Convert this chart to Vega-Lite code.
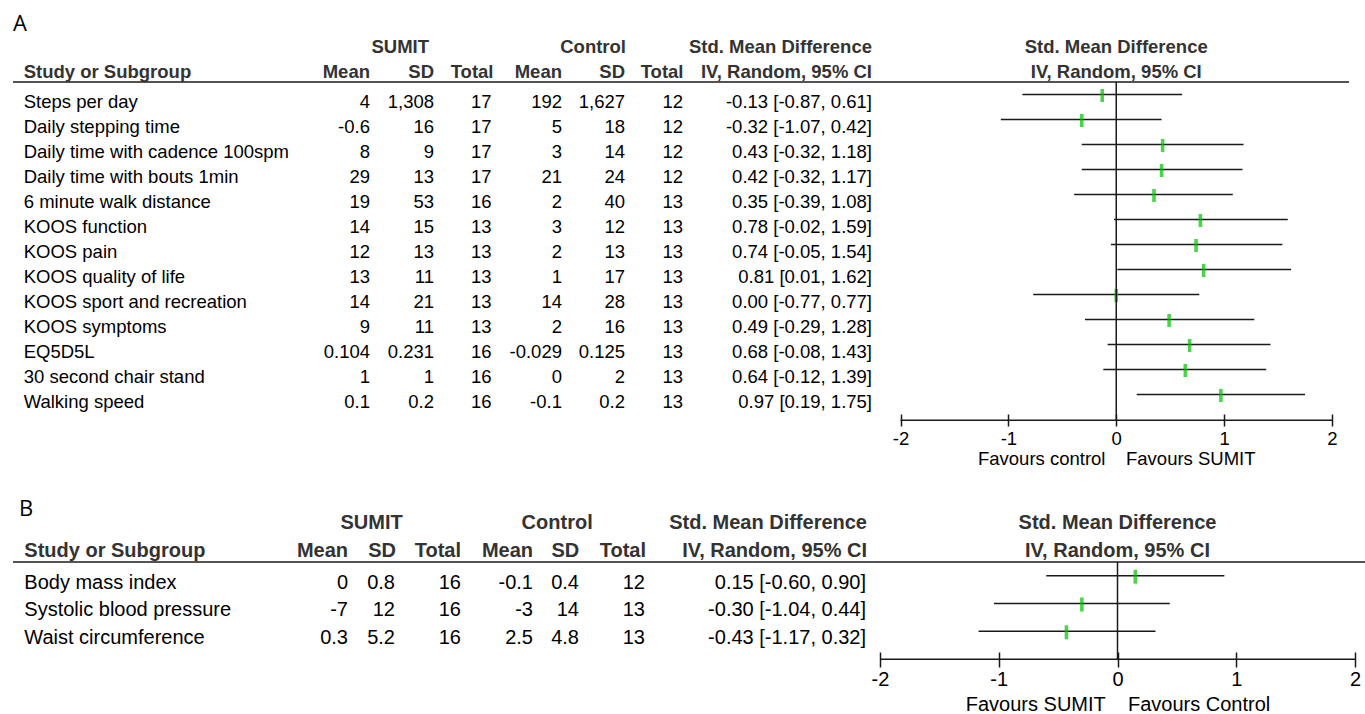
{
 "$schema": "https://vega.github.io/schema/vega-lite/v6.json",
 "padding": {"left": 12, "top": 12, "right": 0, "bottom": 0},
 "background": "white",
 "config": {"font": "Liberation Sans", "view": {"stroke": null}},
 "spacing": 30,
 "datasets": {
  "a": [
   {"row": "Steps per day", "sMean": "4", "sSD": "1,308", "sTotal": "17", "cMean": "192", "cSD": "1,627", "cTotal": "12", "ci": "-0.13 [-0.87, 0.61]", "est": -0.13, "lo": -0.87, "hi": 0.61},
   {"row": "Daily stepping time", "sMean": "-0.6", "sSD": "16", "sTotal": "17", "cMean": "5", "cSD": "18", "cTotal": "12", "ci": "-0.32 [-1.07, 0.42]", "est": -0.32, "lo": -1.07, "hi": 0.42},
   {"row": "Daily time with cadence 100spm", "sMean": "8", "sSD": "9", "sTotal": "17", "cMean": "3", "cSD": "14", "cTotal": "12", "ci": "0.43 [-0.32, 1.18]", "est": 0.43, "lo": -0.32, "hi": 1.18},
   {"row": "Daily time with bouts 1min", "sMean": "29", "sSD": "13", "sTotal": "17", "cMean": "21", "cSD": "24", "cTotal": "12", "ci": "0.42 [-0.32, 1.17]", "est": 0.42, "lo": -0.32, "hi": 1.17},
   {"row": "6 minute walk distance", "sMean": "19", "sSD": "53", "sTotal": "16", "cMean": "2", "cSD": "40", "cTotal": "13", "ci": "0.35 [-0.39, 1.08]", "est": 0.35, "lo": -0.39, "hi": 1.08},
   {"row": "KOOS function", "sMean": "14", "sSD": "15", "sTotal": "13", "cMean": "3", "cSD": "12", "cTotal": "13", "ci": "0.78 [-0.02, 1.59]", "est": 0.78, "lo": -0.02, "hi": 1.59},
   {"row": "KOOS pain", "sMean": "12", "sSD": "13", "sTotal": "13", "cMean": "2", "cSD": "13", "cTotal": "13", "ci": "0.74 [-0.05, 1.54]", "est": 0.74, "lo": -0.05, "hi": 1.54},
   {"row": "KOOS quality of life", "sMean": "13", "sSD": "11", "sTotal": "13", "cMean": "1", "cSD": "17", "cTotal": "13", "ci": "0.81 [0.01, 1.62]", "est": 0.81, "lo": 0.01, "hi": 1.62},
   {"row": "KOOS sport and recreation", "sMean": "14", "sSD": "21", "sTotal": "13", "cMean": "14", "cSD": "28", "cTotal": "13", "ci": "0.00 [-0.77, 0.77]", "est": 0.0, "lo": -0.77, "hi": 0.77},
   {"row": "KOOS symptoms", "sMean": "9", "sSD": "11", "sTotal": "13", "cMean": "2", "cSD": "16", "cTotal": "13", "ci": "0.49 [-0.29, 1.28]", "est": 0.49, "lo": -0.29, "hi": 1.28},
   {"row": "EQ5D5L", "sMean": "0.104", "sSD": "0.231", "sTotal": "16", "cMean": "-0.029", "cSD": "0.125", "cTotal": "13", "ci": "0.68 [-0.08, 1.43]", "est": 0.68, "lo": -0.08, "hi": 1.43},
   {"row": "30 second chair stand", "sMean": "1", "sSD": "1", "sTotal": "16", "cMean": "0", "cSD": "2", "cTotal": "13", "ci": "0.64 [-0.12, 1.39]", "est": 0.64, "lo": -0.12, "hi": 1.39},
   {"row": "Walking speed", "sMean": "0.1", "sSD": "0.2", "sTotal": "16", "cMean": "-0.1", "cSD": "0.2", "cTotal": "13", "ci": "0.97 [0.19, 1.75]", "est": 0.97, "lo": 0.19, "hi": 1.75}
  ],
  "b": [
   {"row": "Body mass index", "sMean": "0", "sSD": "0.8", "sTotal": "16", "cMean": "-0.1", "cSD": "0.4", "cTotal": "12", "ci": "0.15 [-0.60, 0.90]", "est": 0.15, "lo": -0.60, "hi": 0.90},
   {"row": "Systolic blood pressure", "sMean": "-7", "sSD": "12", "sTotal": "16", "cMean": "-3", "cSD": "14", "cTotal": "13", "ci": "-0.30 [-1.04, 0.44]", "est": -0.30, "lo": -1.04, "hi": 0.44},
   {"row": "Waist circumference", "sMean": "0.3", "sSD": "5.2", "sTotal": "16", "cMean": "2.5", "cSD": "4.8", "cTotal": "13", "ci": "-0.43 [-1.17, 0.32]", "est": -0.43, "lo": -1.17, "hi": 0.32}
  ],
  "head": [
   {"row": "hdr1", "ci": "Std. Mean Difference"},
   {"row": "Study or Subgroup", "sMean": "Mean", "sSD": "SD", "sTotal": "Total", "cMean": "Mean", "cSD": "SD", "cTotal": "Total", "ci": "IV, Random, 95% CI"}
  ],
  "group": [
   {"row": "hdr1", "g": "SUMIT"},
   {"row": "hdr1", "g": "Control"}
  ]
 },
 "vconcat": [
  {
   "title": {"text": "A", "anchor": "start", "frame": "group", "fontSize": 22, "fontWeight": "normal", "font": "Open Sans", "color": "#000", "baseline": "alphabetic", "offset": -17.6},
   "width": 1336,
   "height": 379,
   "encoding": {"y": {"field": "row", "type": "nominal", "axis": null, "scale": {"type": "point", "domain": ["hdr1", "Study or Subgroup", "Steps per day", "Daily stepping time", "Daily time with cadence 100spm", "Daily time with bouts 1min", "6 minute walk distance", "KOOS function", "KOOS pain", "KOOS quality of life", "KOOS sport and recreation", "KOOS symptoms", "EQ5D5L", "30 second chair stand", "Walking speed"], "range": [9.5, 359.5], "padding": 0}}},
   "resolve": {"scale": {"x": "independent"}},
   "layer": [
    {"data": {"name": "a"}, "mark": {"type": "rule", "color": "#1a1a1a", "strokeWidth": 1.5},
     "encoding": {"x": {"field": "lo", "type": "quantitative", "scale": {"domain": [-2, 2], "range": [887.5, 1319], "nice": false, "zero": false},
       "axis": {"orient": "bottom", "values": [-2, -1, 0, 1, 2], "domain": false, "grid": false, "ticks": true, "tickSize": 12, "tickWidth": 1.5, "tickColor": "#1a1a1a", "labelFontSize": 18.5, "labelColor": "#000", "labelBaseline": "alphabetic", "labelPadding": 18, "labelFlush": false, "labelOverlap": false, "labelExpr": "'' + datum.value", "title": "Favours control\u00a0\u00a0\u00a0\u00a0Favours SUMIT", "titleFontSize": 18.5, "titleFontWeight": "normal", "titleColor": "#000", "titlePadding": 2}},
      "x2": {"field": "hi"}}},
    {"data": {"name": "a"}, "mark": {"type": "tick", "color": "#00c000", "thickness": 3.6, "size": 13, "yOffset": 1},
     "encoding": {"x": {"field": "est", "type": "quantitative", "axis": null, "scale": {"domain": [-2, 2], "range": [887.5, 1319], "nice": false, "zero": false}}}},
    {"data": {"values": [{}]}, "mark": {"type": "rule", "color": "#1a1a1a", "strokeWidth": 1.5, "yOffset": 12.5, "y2Offset": 6.3},
     "encoding": {"x": {"datum": 0, "type": "quantitative", "axis": null, "scale": {"domain": [-2, 2], "range": [887.5, 1319], "nice": false, "zero": false}},
      "y": {"datum": "Study or Subgroup", "type": "nominal", "axis": null, "scale": {"type": "point", "domain": ["hdr1", "Study or Subgroup", "Steps per day", "Daily stepping time", "Daily time with cadence 100spm", "Daily time with bouts 1min", "6 minute walk distance", "KOOS function", "KOOS pain", "KOOS quality of life", "KOOS sport and recreation", "KOOS symptoms", "EQ5D5L", "30 second chair stand", "Walking speed"], "range": [9.5, 359.5], "padding": 0}},
      "y2": {"value": "height"}}},
    {"data": {"values": [{}]}, "mark": {"type": "rule", "color": "#1a1a1a", "strokeWidth": 1.5, "yOffset": 6.3},
     "encoding": {"x": {"datum": -2, "type": "quantitative", "axis": null, "scale": {"domain": [-2, 2], "range": [887.5, 1319], "nice": false, "zero": false}},
      "x2": {"datum": 2}, "y": {"value": "height"}}},
    {"data": {"name": "head"}, "mark": {"type": "text", "align": "center", "baseline": "alphabetic", "dy": 8.7, "fontSize": 18.5, "fontWeight": "bold", "color": "#333"},
     "encoding": {"x": {"datum": 0, "type": "quantitative", "axis": null, "scale": {"domain": [-2, 2], "range": [887.5, 1319], "nice": false, "zero": false}}, "text": {"field": "ci"}}},
    {"data": {"values": [{}]}, "mark": {"type": "rule", "color": "#1a1a1a", "strokeWidth": 1.6, "yOffset": 12.5},
     "encoding": {"y": {"datum": "Study or Subgroup", "type": "nominal", "axis": null, "scale": {"type": "point", "domain": ["hdr1", "Study or Subgroup", "Steps per day", "Daily stepping time", "Daily time with cadence 100spm", "Daily time with bouts 1min", "6 minute walk distance", "KOOS function", "KOOS pain", "KOOS quality of life", "KOOS sport and recreation", "KOOS symptoms", "EQ5D5L", "30 second chair stand", "Walking speed"], "range": [9.5, 359.5], "padding": 0}}}},
    {"data": {"name": "a"}, "mark": {"type": "text", "align": "left", "baseline": "alphabetic", "dy": 13.8, "fontSize": 18.5, "color": "#000"},
     "encoding": {"x": {"datum": "name", "type": "nominal", "axis": null, "scale": {"type": "point", "domain": ["name"], "range": [10.7, 10.7]}}, "text": {"field": "row"}}},
    {"data": {"name": "head"}, "transform": [{"filter": "datum.row == 'Study or Subgroup'"}], "mark": {"type": "text", "align": "left", "baseline": "alphabetic", "dy": 8.7, "fontSize": 18.5, "fontWeight": "bold", "color": "#333"},
     "encoding": {"x": {"datum": "name", "type": "nominal", "axis": null, "scale": {"type": "point", "domain": ["name"], "range": [10.7, 10.7]}}, "text": {"field": "row"}}},
    {"data": {"name": "a"}, "transform": [{"fold": ["sMean", "cMean"], "as": ["k", "v"]}], "mark": {"type": "text", "align": "right", "baseline": "alphabetic", "dy": 13.8, "fontSize": 18.5, "color": "#000"},
     "encoding": {"x": {"field": "k", "type": "nominal", "axis": null, "scale": {"type": "point", "domain": ["sMean", "cMean"], "range": [357, 549], "padding": 0}}, "text": {"field": "v"}}},
    {"data": {"name": "a"}, "transform": [{"fold": ["sSD", "cSD"], "as": ["k", "v"]}], "mark": {"type": "text", "align": "right", "baseline": "alphabetic", "dy": 13.8, "fontSize": 18.5, "color": "#000"},
     "encoding": {"x": {"field": "k", "type": "nominal", "axis": null, "scale": {"type": "point", "domain": ["sSD", "cSD"], "range": [421, 612], "padding": 0}}, "text": {"field": "v"}}},
    {"data": {"name": "a"}, "transform": [{"fold": ["sTotal", "cTotal"], "as": ["k", "v"]}], "mark": {"type": "text", "align": "right", "baseline": "alphabetic", "dy": 13.8, "fontSize": 18.5, "color": "#000"},
     "encoding": {"x": {"field": "k", "type": "nominal", "axis": null, "scale": {"type": "point", "domain": ["sTotal", "cTotal"], "range": [478.5, 670], "padding": 0}}, "text": {"field": "v"}}},
    {"data": {"name": "head"}, "transform": [{"fold": ["sMean", "cMean"], "as": ["k", "v"]}, {"filter": "isValid(datum.v)"}], "mark": {"type": "text", "align": "right", "baseline": "alphabetic", "dy": 8.7, "fontSize": 18.5, "fontWeight": "bold", "color": "#333"},
     "encoding": {"x": {"field": "k", "type": "nominal", "axis": null, "scale": {"type": "point", "domain": ["sMean", "cMean"], "range": [357, 549], "padding": 0}}, "text": {"field": "v"}}},
    {"data": {"name": "head"}, "transform": [{"fold": ["sSD", "cSD"], "as": ["k", "v"]}, {"filter": "isValid(datum.v)"}], "mark": {"type": "text", "align": "right", "baseline": "alphabetic", "dy": 8.7, "fontSize": 18.5, "fontWeight": "bold", "color": "#333"},
     "encoding": {"x": {"field": "k", "type": "nominal", "axis": null, "scale": {"type": "point", "domain": ["sSD", "cSD"], "range": [421, 612], "padding": 0}}, "text": {"field": "v"}}},
    {"data": {"name": "head"}, "transform": [{"fold": ["sTotal", "cTotal"], "as": ["k", "v"]}, {"filter": "isValid(datum.v)"}], "mark": {"type": "text", "align": "right", "baseline": "alphabetic", "dy": 8.7, "fontSize": 18.5, "fontWeight": "bold", "color": "#333"},
     "encoding": {"x": {"field": "k", "type": "nominal", "axis": null, "scale": {"type": "point", "domain": ["sTotal", "cTotal"], "range": [480.5, 670.5], "padding": 0}}, "text": {"field": "v"}}},
    {"data": {"name": "group"}, "mark": {"type": "text", "align": "right", "baseline": "alphabetic", "dy": 8.7, "fontSize": 18.5, "fontWeight": "bold", "color": "#333"},
     "encoding": {"x": {"field": "g", "type": "nominal", "axis": null, "scale": {"type": "point", "domain": ["SUMIT", "Control"], "range": [416, 613], "padding": 0}}, "text": {"field": "g"}}},
    {"data": {"name": "a"}, "mark": {"type": "text", "align": "right", "baseline": "alphabetic", "dy": 13.8, "fontSize": 18.5, "color": "#000"},
     "encoding": {"x": {"datum": "ci", "type": "nominal", "axis": null, "scale": {"type": "point", "domain": ["ci"], "range": [859, 859]}}, "text": {"field": "ci"}}},
    {"data": {"name": "head"}, "mark": {"type": "text", "align": "right", "baseline": "alphabetic", "dy": 8.7, "fontSize": 18.5, "fontWeight": "bold", "color": "#333"},
     "encoding": {"x": {"datum": "ci", "type": "nominal", "axis": null, "scale": {"type": "point", "domain": ["ci"], "range": [859, 859]}}, "text": {"field": "ci"}}}
   ]
  },
  {
   "title": {"text": "B", "anchor": "start", "frame": "group", "fontSize": 22, "fontWeight": "normal", "font": "Open Sans", "color": "#000", "baseline": "alphabetic", "offset": -25.3, "dx": 6},
   "width": 1353,
   "height": 136,
   "encoding": {"y": {"field": "row", "type": "nominal", "axis": null, "scale": {"type": "point", "domain": ["hdr1", "Study or Subgroup", "Body mass index", "Systolic blood pressure", "Waist circumference"], "range": [4.1, 115.3], "padding": 0}}},
   "resolve": {"scale": {"x": "independent"}},
   "layer": [
    {"data": {"name": "b"}, "mark": {"type": "rule", "color": "#1a1a1a", "strokeWidth": 1.5},
     "encoding": {"x": {"field": "lo", "type": "quantitative", "scale": {"domain": [-2, 2], "range": [867, 1342], "nice": false, "zero": false},
       "axis": {"orient": "bottom", "values": [-2, -1, 0, 1, 2], "domain": false, "grid": false, "ticks": true, "tickSize": 15, "tickWidth": 1.5, "tickColor": "#1a1a1a", "labelFontSize": 20, "labelColor": "#000", "labelBaseline": "alphabetic", "labelPadding": 18.3, "labelFlush": false, "labelOverlap": false, "labelExpr": "'' + datum.value", "title": "Favours SUMIT\u00a0\u00a0\u00a0\u00a0Favours Control", "titleFontSize": 20, "titleFontWeight": "normal", "titleColor": "#000", "titlePadding": 5}},
      "x2": {"field": "hi"}}},
    {"data": {"name": "b"}, "mark": {"type": "tick", "color": "#00c000", "thickness": 3.6, "size": 14, "yOffset": 1},
     "encoding": {"x": {"field": "est", "type": "quantitative", "axis": null, "scale": {"domain": [-2, 2], "range": [867, 1342], "nice": false, "zero": false}}}},
    {"data": {"values": [{}]}, "mark": {"type": "rule", "color": "#1a1a1a", "strokeWidth": 1.5, "yOffset": 14.1, "y2Offset": 7.3},
     "encoding": {"x": {"datum": 0, "type": "quantitative", "axis": null, "scale": {"domain": [-2, 2], "range": [867, 1342], "nice": false, "zero": false}},
      "y": {"datum": "Study or Subgroup", "type": "nominal", "axis": null, "scale": {"type": "point", "domain": ["hdr1", "Study or Subgroup", "Body mass index", "Systolic blood pressure", "Waist circumference"], "range": [4.1, 115.3], "padding": 0}},
      "y2": {"value": "height"}}},
    {"data": {"values": [{}]}, "mark": {"type": "rule", "color": "#1a1a1a", "strokeWidth": 1.5, "yOffset": 7.3},
     "encoding": {"x": {"datum": -2, "type": "quantitative", "axis": null, "scale": {"domain": [-2, 2], "range": [867, 1342], "nice": false, "zero": false}},
      "x2": {"datum": 2}, "y": {"value": "height"}}},
    {"data": {"name": "head"}, "mark": {"type": "text", "align": "center", "baseline": "alphabetic", "dy": 8.8, "fontSize": 20, "fontWeight": "bold", "color": "#333"},
     "encoding": {"x": {"datum": 0, "type": "quantitative", "axis": null, "scale": {"domain": [-2, 2], "range": [867, 1342], "nice": false, "zero": false}}, "text": {"field": "ci"}}},
    {"data": {"values": [{}]}, "mark": {"type": "rule", "color": "#1a1a1a", "strokeWidth": 1.6, "yOffset": 14.1},
     "encoding": {"y": {"datum": "Study or Subgroup", "type": "nominal", "axis": null, "scale": {"type": "point", "domain": ["hdr1", "Study or Subgroup", "Body mass index", "Systolic blood pressure", "Waist circumference"], "range": [4.1, 115.3], "padding": 0}}}},
    {"data": {"name": "b"}, "mark": {"type": "text", "align": "left", "baseline": "alphabetic", "dy": 12.8, "fontSize": 20, "color": "#000"},
     "encoding": {"x": {"datum": "name", "type": "nominal", "axis": null, "scale": {"type": "point", "domain": ["name"], "range": [11.3, 11.3]}}, "text": {"field": "row"}}},
    {"data": {"name": "head"}, "transform": [{"filter": "datum.row == 'Study or Subgroup'"}], "mark": {"type": "text", "align": "left", "baseline": "alphabetic", "dy": 8.8, "fontSize": 20, "fontWeight": "bold", "color": "#333"},
     "encoding": {"x": {"datum": "name", "type": "nominal", "axis": null, "scale": {"type": "point", "domain": ["name"], "range": [11.3, 11.3]}}, "text": {"field": "row"}}},
    {"data": {"name": "b"}, "transform": [{"fold": ["sMean", "cMean"], "as": ["k", "v"]}], "mark": {"type": "text", "align": "right", "baseline": "alphabetic", "dy": 12.8, "fontSize": 20, "color": "#000"},
     "encoding": {"x": {"field": "k", "type": "nominal", "axis": null, "scale": {"type": "point", "domain": ["sMean", "cMean"], "range": [335, 520], "padding": 0}}, "text": {"field": "v"}}},
    {"data": {"name": "b"}, "transform": [{"fold": ["sSD", "cSD"], "as": ["k", "v"]}], "mark": {"type": "text", "align": "right", "baseline": "alphabetic", "dy": 12.8, "fontSize": 20, "color": "#000"},
     "encoding": {"x": {"field": "k", "type": "nominal", "axis": null, "scale": {"type": "point", "domain": ["sSD", "cSD"], "range": [382, 566], "padding": 0}}, "text": {"field": "v"}}},
    {"data": {"name": "b"}, "transform": [{"fold": ["sTotal", "cTotal"], "as": ["k", "v"]}], "mark": {"type": "text", "align": "right", "baseline": "alphabetic", "dy": 12.8, "fontSize": 20, "color": "#000"},
     "encoding": {"x": {"field": "k", "type": "nominal", "axis": null, "scale": {"type": "point", "domain": ["sTotal", "cTotal"], "range": [448, 632], "padding": 0}}, "text": {"field": "v"}}},
    {"data": {"name": "head"}, "transform": [{"fold": ["sMean", "cMean"], "as": ["k", "v"]}, {"filter": "isValid(datum.v)"}], "mark": {"type": "text", "align": "right", "baseline": "alphabetic", "dy": 8.8, "fontSize": 20, "fontWeight": "bold", "color": "#333"},
     "encoding": {"x": {"field": "k", "type": "nominal", "axis": null, "scale": {"type": "point", "domain": ["sMean", "cMean"], "range": [335, 520], "padding": 0}}, "text": {"field": "v"}}},
    {"data": {"name": "head"}, "transform": [{"fold": ["sSD", "cSD"], "as": ["k", "v"]}, {"filter": "isValid(datum.v)"}], "mark": {"type": "text", "align": "right", "baseline": "alphabetic", "dy": 8.8, "fontSize": 20, "fontWeight": "bold", "color": "#333"},
     "encoding": {"x": {"field": "k", "type": "nominal", "axis": null, "scale": {"type": "point", "domain": ["sSD", "cSD"], "range": [383, 566.3], "padding": 0}}, "text": {"field": "v"}}},
    {"data": {"name": "head"}, "transform": [{"fold": ["sTotal", "cTotal"], "as": ["k", "v"]}, {"filter": "isValid(datum.v)"}], "mark": {"type": "text", "align": "right", "baseline": "alphabetic", "dy": 8.8, "fontSize": 20, "fontWeight": "bold", "color": "#333"},
     "encoding": {"x": {"field": "k", "type": "nominal", "axis": null, "scale": {"type": "point", "domain": ["sTotal", "cTotal"], "range": [448, 633], "padding": 0}}, "text": {"field": "v"}}},
    {"data": {"name": "group"}, "mark": {"type": "text", "align": "right", "baseline": "alphabetic", "dy": 8.8, "fontSize": 20, "fontWeight": "bold", "color": "#333"},
     "encoding": {"x": {"field": "g", "type": "nominal", "axis": null, "scale": {"type": "point", "domain": ["SUMIT", "Control"], "range": [389.7, 579.7], "padding": 0}}, "text": {"field": "g"}}},
    {"data": {"name": "b"}, "mark": {"type": "text", "align": "right", "baseline": "alphabetic", "dy": 12.8, "fontSize": 20, "color": "#000"},
     "encoding": {"x": {"datum": "ci", "type": "nominal", "axis": null, "scale": {"type": "point", "domain": ["ci"], "range": [853, 853]}}, "text": {"field": "ci"}}},
    {"data": {"name": "head"}, "mark": {"type": "text", "align": "right", "baseline": "alphabetic", "dy": 8.8, "fontSize": 20, "fontWeight": "bold", "color": "#333"},
     "encoding": {"x": {"datum": "ci", "type": "nominal", "axis": null, "scale": {"type": "point", "domain": ["ci"], "range": [854, 854]}}, "text": {"field": "ci"}}}
   ]
  }
 ]
}
